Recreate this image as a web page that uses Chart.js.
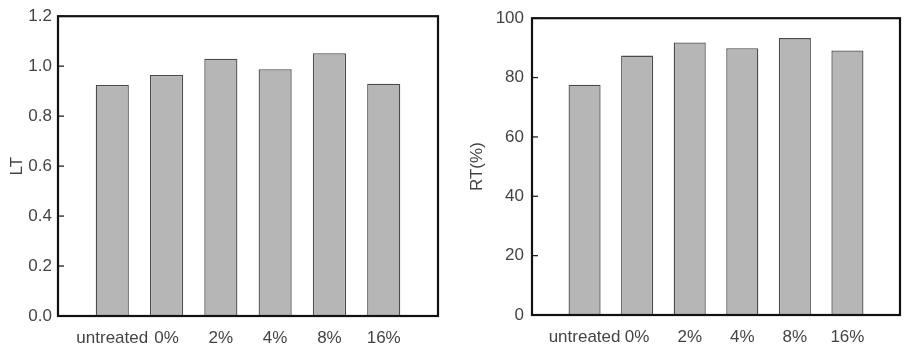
<!DOCTYPE html>
<html>
<head>
<meta charset="utf-8">
<script src="https://cdn.jsdelivr.net/npm/chart.js@4/dist/chart.umd.min.js"></script>
<style>
  body { margin: 0; background: #fff; }
  #wrap { position: relative; width: 912px; height: 354px; }
  #ltChart { position: absolute; left: 0; top: 0; }
  #rtChart { position: absolute; left: 460px; top: 0; }
</style>
</head>
<body>
<div id="wrap">
  <canvas id="ltChart" width="460" height="354"></canvas>
  <canvas id="rtChart" width="452" height="354"></canvas>
</div>
<script>
const categories = ['untreated', '0%', '2%', '4%', '8%', '16%'];
const ltValues = [0.925, 0.965, 1.03, 0.988, 1.052, 0.93];
const rtValues = [77.6, 87.4, 91.8, 89.9, 93.3, 89.1];
const ltTicks = { min: 0, max: 1.2, step: 0.2 };
const rtTicks = { min: 0, max: 100, step: 20 };

const textColor = '#444';
const fontFam = '"Liberation Sans", Arial, sans-serif';

// box round the plot + short inward ticks on the y axis
const boxPlugin = {
  id: 'box',
  afterDatasetsDraw(chart) {
    const ctx = chart.ctx;
    const a = chart.chartArea;
    const ys = chart.scales.y;
    ctx.save();
    ctx.strokeStyle = '#222';
    ctx.lineWidth = 1.3;
    ys.ticks.forEach((t, i) => {
      const py = ys.getPixelForTick(i);
      ctx.beginPath();
      ctx.moveTo(a.left, py);
      ctx.lineTo(a.left + 6, py);
      ctx.stroke();
    });
    ctx.strokeStyle = '#111';
    ctx.lineWidth = 2.2;
    ctx.strokeRect(a.left, a.top, a.right - a.left, a.bottom - a.top);
    ctx.restore();
  }
};

function makeChart(id, values, yt, title, yWidth, pad, xHeight, digits, yPad) {
  const ctx = document.getElementById(id).getContext('2d');
  return new Chart(ctx, {
    type: 'bar',
    data: {
      datasets: [{
        data: categories.map((c, i) => ({ x: i + 1, y: values[i] })),
        backgroundColor: '#b6b6b6',
        borderColor: '#4a4a4a',
        borderWidth: 1.3,
        barPercentage: 0.61,
        categoryPercentage: 1
      }]
    },
    options: {
      responsive: false,
      animation: false,
      layout: { padding: pad },
      plugins: { legend: { display: false }, tooltip: { enabled: false } },
      scales: {
        x: {
          type: 'linear',
          offset: false,
          min: 0,
          max: categories.length + 1,
          grid: { display: false, drawTicks: false },
          border: { display: false },
          afterFit: s => { s.height = xHeight; },
          ticks: {
            stepSize: 1,
            autoSkip: false,
            maxRotation: 0,
            padding: 12,
            color: textColor,
            font: { family: fontFam, size: 17 },
            callback: v => categories[v - 1] || ''
          }
        },
        y: {
          min: yt.min,
          max: yt.max,
          grid: { display: false, drawTicks: false },
          border: { display: false },
          afterFit: s => { s.width = yWidth; },
          title: {
            display: true,
            text: title,
            color: textColor,
            padding: { top: 7, bottom: 4 },
            font: { family: fontFam, size: 17 }
          },
          ticks: {
            stepSize: yt.step,
            padding: yPad,
            color: textColor,
            font: { family: fontFam, size: 17 },
            callback: v => Number(v).toFixed(digits)
          }
        }
      }
    },
    plugins: [boxPlugin]
  });
}

makeChart('ltChart', ltValues, ltTicks, 'LT', 58, { top: 13, right: 22, left: 0, bottom: 0 }, 38, 1, 6);
makeChart('rtChart', rtValues, rtTicks, 'RT(%)', 72, { top: 10, right: 2, left: 0, bottom: 0 }, 39, 0, 8);
</script>
</body>
</html>
